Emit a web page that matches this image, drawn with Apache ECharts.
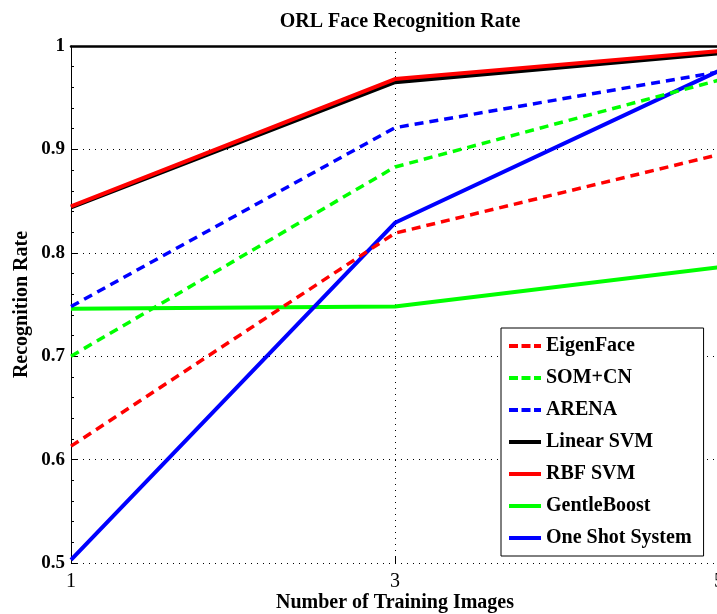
<!DOCTYPE html>
<html>
<head>
<meta charset="utf-8">
<script src="https://cdn.jsdelivr.net/npm/echarts@6/dist/echarts.min.js"></script>
<style>html,body{margin:0;padding:0;background:#fff}#c{width:717px;height:614px}</style>
</head>
<body>
<div id="c"></div>
<script>
const trainingImages = [1, 3, 5];
const eigenFace   = [0.613, 0.819, 0.895];
const somCn       = [0.700, 0.883, 0.967];
const arena       = [0.748, 0.921, 0.975];
const linearSvm   = [0.844, 0.965, 0.993];
const rbfSvm      = [0.845, 0.968, 0.995];
const gentleBoost = [0.746, 0.748, 0.786];
const oneShot     = [0.503, 0.829, 0.976];
const yTicks = [0.5, 0.6, 0.7, 0.8, 0.9, 1];

const serif = '"Liberation Serif", "DejaVu Serif", serif';
function pts(v){ return trainingImages.map((x,i)=>[x,v[i]]); }
function mk(name, vals, color, dashed){
  return {
    name, type:'line', data: pts(vals), symbol:'none', showSymbol:false,
    lineStyle:{color, width: dashed?3.5:4, type: dashed?[9,6]:'solid'},
    itemStyle:{color}, z: dashed?3:2, animation:false
  };
}
const dashedLeg = {type:[9,3.5], width:4};
const solidLeg = {type:'solid', width:4};
const chart = echarts.init(document.getElementById('c'), null, {renderer:'canvas'});
chart.setOption({
  animation:false,
  backgroundColor:'#fff',
  title:{text:'ORL Face Recognition Rate', left:395, textAlign:'center', top:7,
    textStyle:{fontFamily:serif, fontWeight:'bold', fontSize:20, color:'#000'}},
  grid:{left:71, top:46, right:-2, bottom:51, show:false, containLabel:false, outerBoundsMode:'none'},
  legend:{
    orient:'vertical', left:501, top:328, backgroundColor:'#fff',
    borderColor:'#000', borderWidth:1, borderRadius:0,
    padding:[8,12,8,6], itemWidth:32, itemHeight:12, itemGap:12,
    itemStyle:{color:'rgba(0,0,0,0)', opacity:0, borderWidth:0},
    lineStyle:{width:4},
    textStyle:{fontFamily:serif, fontWeight:'bold', fontSize:20, color:'#000', lineHeight:20},
    data:[
      {name:'EigenFace', lineStyle:dashedLeg},
      {name:'SOM+CN', lineStyle:dashedLeg},
      {name:'ARENA', lineStyle:dashedLeg},
      {name:'Linear SVM', lineStyle:solidLeg},
      {name:'RBF SVM', lineStyle:solidLeg},
      {name:'GentleBoost', lineStyle:solidLeg},
      {name:'One Shot System', lineStyle:solidLeg}
    ]
  },
  xAxis:[{
    type:'value', min:1, max:5, interval:2,
    name:'Number of Training Images', nameLocation:'middle', nameGap:30, nameMoveOverlap:false,
    nameTextStyle:{fontFamily:serif, fontWeight:'bold', fontSize:20, color:'#000'},
    axisLine:{show:false},
    axisTick:{show:true, inside:true, length:6, lineStyle:{color:'#000'}},
    axisLabel:{fontFamily:serif, fontSize:20, color:'#000', margin:9, hideOverlap:false,
      showMinLabel:true, showMaxLabel:true},
    splitLine:{show:true, lineStyle:{color:'#000', type:[1,5], width:1}}
  },{
    type:'value', min:1, max:5, position:'top',
    axisLine:{show:true, lineStyle:{color:'#000', width:2.5}},
    axisTick:{show:false}, axisLabel:{show:false}, splitLine:{show:false}
  }],
  yAxis:{
    type:'value', min:0.5, max:1, interval:0.1,
    name:'Recognition Rate', nameLocation:'middle', nameGap:39, nameRotate:90, nameMoveOverlap:false,
    nameTextStyle:{fontFamily:serif, fontWeight:'bold', fontSize:20, color:'#000'},
    axisLine:{show:true, onZero:false, lineStyle:{color:'#000', width:1}},
    axisTick:{show:true, inside:true, length:6, lineStyle:{color:'#000'}},
    minorTick:{show:true, splitNumber:5, length:3, lineStyle:{color:'#000'}},
    axisLabel:{fontFamily:serif, fontWeight:'bold', fontSize:19, color:'#000', margin:6,
      formatter: v => { const t = yTicks.find(y=>Math.abs(y-v)<1e-6); return t===undefined?'':String(t); }},
    splitLine:{show:true, lineStyle:{color:'#000', type:[1,5], width:1}}
  },
  series:[
    mk('Linear SVM', linearSvm, '#000000', false),
    mk('RBF SVM', rbfSvm, '#ff0000', false),
    mk('GentleBoost', gentleBoost, '#00ff00', false),
    mk('One Shot System', oneShot, '#0000ff', false),
    mk('EigenFace', eigenFace, '#ff0000', true),
    mk('SOM+CN', somCn, '#00ff00', true),
    mk('ARENA', arena, '#0000ff', true)
  ]
});
</script>
</body>
</html>
